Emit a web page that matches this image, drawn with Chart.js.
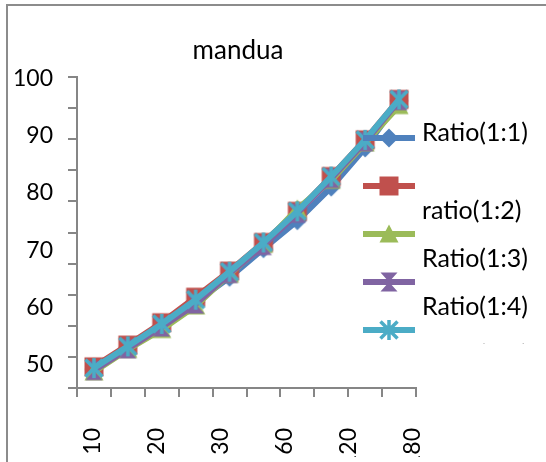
<!DOCTYPE html>
<html lang="en">
<head>
<meta charset="UTF-8">
<title>mandua</title>
<style>
    body {
        margin: 0;
        background: #ffffff;
    }
    .frame {
        position: relative;
        width: 546px;
        height: 462px;
        overflow: hidden;
    }
    /* outer chart border, only the top and left edges are inside the page */
    .frame::before {
        content: '';
        position: absolute;
        left: 6px;
        top: 4px;
        right: -20px;
        bottom: -20px;
        border-left: 2px solid #8c8c8c;
        border-top: 2px solid #8c8c8c;
    }
    #chart {
        position: absolute;
        left: 0;
        top: 0;
    }
    .title {
        position: absolute;
        left: 138px;
        top: 33px;
        width: 200px;
        height: 28px;
        line-height: 28px;
        text-align: center;
        font: 26px Lato, sans-serif;
        color: #000;
    }
    .legend {
        position: absolute;
        left: 355px;
        top: 110px;
        width: 191px;
        height: 234px;
        overflow: hidden;
    }
    .legend canvas, .legend span {
        position: absolute;
    }
    .legend span {
        font: 25px Lato, sans-serif;
        line-height: 24px;
        white-space: nowrap;
        color: #000;
    }
</style>
</head>
<body>
<div class="frame">
    <canvas id="chart" width="546" height="462"></canvas>
    <div class="title">mandua</div>
    <div class="legend" id="legend"></div>
</div>

<script src="https://cdn.jsdelivr.net/npm/chart.js"></script>
<script>
    // sample points along the x axis and the time labels printed under it
    const samples = ['1', '2', '3', '4', '5', '6', '7', '8', '9', '10'];
    const timeLabels = ['10', '20', '30', '60', '120', '180'];

    const ratio11 = [53.0, 56.5, 60.0, 63.8, 67.8, 72.4, 76.9, 82.3, 88.6, 96.2];
    const ratio12 = [53.4, 56.9, 60.5, 64.6, 68.8, 73.4, 78.4, 84.0, 89.9, 96.4];
    const ratio13 = [52.6, 56.2, 59.4, 63.2, 68.3, 73.1, 78.8, 83.4, 89.4, 95.4];
    const ratio14 = [52.8, 56.3, 59.8, 63.5, 68.4, 72.9, 78.1, 83.7, 89.6, 96.2];
    const ratio15 = [53.2, 56.7, 60.3, 64.2, 68.7, 73.4, 78.4, 84.0, 89.9, 96.4];

    const seriesNames = ['Ratio(1:1)', 'ratio(1:2)', 'Ratio(1:3)', 'Ratio(1:4)', 'Ratio(1:5)'];
    const seriesData = [ratio11, ratio12, ratio13, ratio14, ratio15];
    const seriesColors = ['#4f81bd', '#c0504d', '#9bbb59', '#8064a2', '#4bacc6'];
    const markerKinds = ['diamond', 'square', 'triangle', 'hourglass', 'asterisk'];

    const axisColor = '#868686';
    const tickFont = { family: 'Lato', size: 23 };

    // small canvases used as point styles (and reused in the legend)
    function makeMarker(kind, color) {
        const size = 24, c = size / 2;
        const cv = document.createElement('canvas');
        cv.width = size;
        cv.height = size;
        const ctx = cv.getContext('2d');
        ctx.fillStyle = color;
        ctx.strokeStyle = color;
        ctx.beginPath();
        if (kind === 'diamond') {
            ctx.moveTo(c, c - 9.5);
            ctx.lineTo(c + 9.5, c);
            ctx.lineTo(c, c + 9.5);
            ctx.lineTo(c - 9.5, c);
            ctx.closePath();
            ctx.fill();
        } else if (kind === 'square') {
            ctx.rect(c - 9.5, c - 9.5, 19, 19);
            ctx.fill();
        } else if (kind === 'triangle') {
            ctx.moveTo(c, c - 9.5);
            ctx.lineTo(c + 9.5, c + 8.5);
            ctx.lineTo(c - 9.5, c + 8.5);
            ctx.closePath();
            ctx.fill();
        } else if (kind === 'hourglass') {
            ctx.moveTo(c - 8.5, c - 9.5);
            ctx.lineTo(c + 8.5, c - 9.5);
            ctx.lineTo(c - 8.5, c + 9.5);
            ctx.lineTo(c + 8.5, c + 9.5);
            ctx.closePath();
            ctx.fill();
        } else {
            ctx.lineWidth = 3.5;
            ctx.moveTo(c - 8.5, c - 8.5);
            ctx.lineTo(c + 8.5, c + 8.5);
            ctx.moveTo(c + 8.5, c - 8.5);
            ctx.lineTo(c - 8.5, c + 8.5);
            ctx.moveTo(c, c - 10);
            ctx.lineTo(c, c + 10);
            ctx.stroke();
        }
        return cv;
    }

    const markers = markerKinds.map((k, i) => makeMarker(k, seriesColors[i]));

    const datasets = seriesData.map((values, i) => ({
        label: seriesNames[i],
        data: values,
        borderColor: seriesColors[i],
        backgroundColor: seriesColors[i],
        borderWidth: 6,
        pointStyle: markers[i],
        pointRadius: 9,
        pointHoverRadius: 9,
        tension: 0,
        // first series underneath, last one on top
        order: seriesData.length - i
    }));

    new Chart(document.getElementById('chart'), {
        type: 'line',
        data: { labels: samples, datasets: datasets },
        options: {
            responsive: false,
            animation: false,
            layout: { padding: { left: 10, right: 130, top: 77, bottom: 5 } },
            plugins: {
                legend: { display: false },
                tooltip: { enabled: false },
                title: { display: false }
            },
            scales: {
                x: {
                    type: 'category',
                    offset: true,
                    weight: 0,
                    grid: { drawOnChartArea: false, offset: true, tickLength: 9, color: axisColor, lineWidth: 2 },
                    border: { color: axisColor, width: 2 },
                    ticks: { display: false },
                    afterFit: s => { s.height = 9; }
                },
                xTime: {
                    type: 'linear',
                    position: 'bottom',
                    weight: 1,
                    min: -0.25,
                    max: 5.06,
                    grid: { display: false, drawTicks: false },
                    border: { display: false },
                    ticks: {
                        stepSize: 1,
                        includeBounds: false,
                        autoSkip: false,
                        minRotation: 90,
                        maxRotation: 90,
                        padding: 31,
                        font: tickFont,
                        color: '#000',
                        callback: v => timeLabels[v]
                    },
                    afterFit: s => { s.height = 60; }
                },
                y: {
                    min: 50,
                    max: 100,
                    weight: 0,
                    grid: { drawOnChartArea: false, tickLength: 9, color: axisColor, lineWidth: 2 },
                    border: { color: axisColor, width: 2 },
                    ticks: { stepSize: 5, display: false },
                    afterFit: s => { s.width = 9; }
                },
                yLabels: {
                    type: 'linear',
                    position: 'left',
                    weight: 1,
                    min: 45.95,
                    max: 100.23,
                    grid: { display: false, drawTicks: false },
                    border: { display: false },
                    ticks: { stepSize: 10, includeBounds: false, padding: 15, font: tickFont, color: '#000' },
                    afterFit: s => { s.width = 58; }
                }
            }
        }
    });

    // legend: line sample with marker, name beside it
    // (names after the first sit half a row lower than their sample)
    const legendEl = document.getElementById('legend');
    seriesNames.forEach((name, i) => {
        const row = i * 48;
        const sample = document.createElement('canvas');
        sample.width = 56;
        sample.height = 24;
        const ctx = sample.getContext('2d');
        ctx.strokeStyle = seriesColors[i];
        ctx.lineWidth = 6;
        ctx.beginPath();
        ctx.moveTo(2, 12);
        ctx.lineTo(54, 12);
        ctx.stroke();
        ctx.drawImage(markers[i], 28 - markers[i].width / 2, 12 - markers[i].height / 2);
        sample.style.left = '6px';
        sample.style.top = (row + 16) + 'px';
        legendEl.appendChild(sample);

        const label = document.createElement('span');
        label.textContent = name;
        label.style.left = '67px';
        label.style.top = (row + 16 + (i ? 22.5 : -7)) + 'px';
        legendEl.appendChild(label);
    });
</script>
</body>
</html>
